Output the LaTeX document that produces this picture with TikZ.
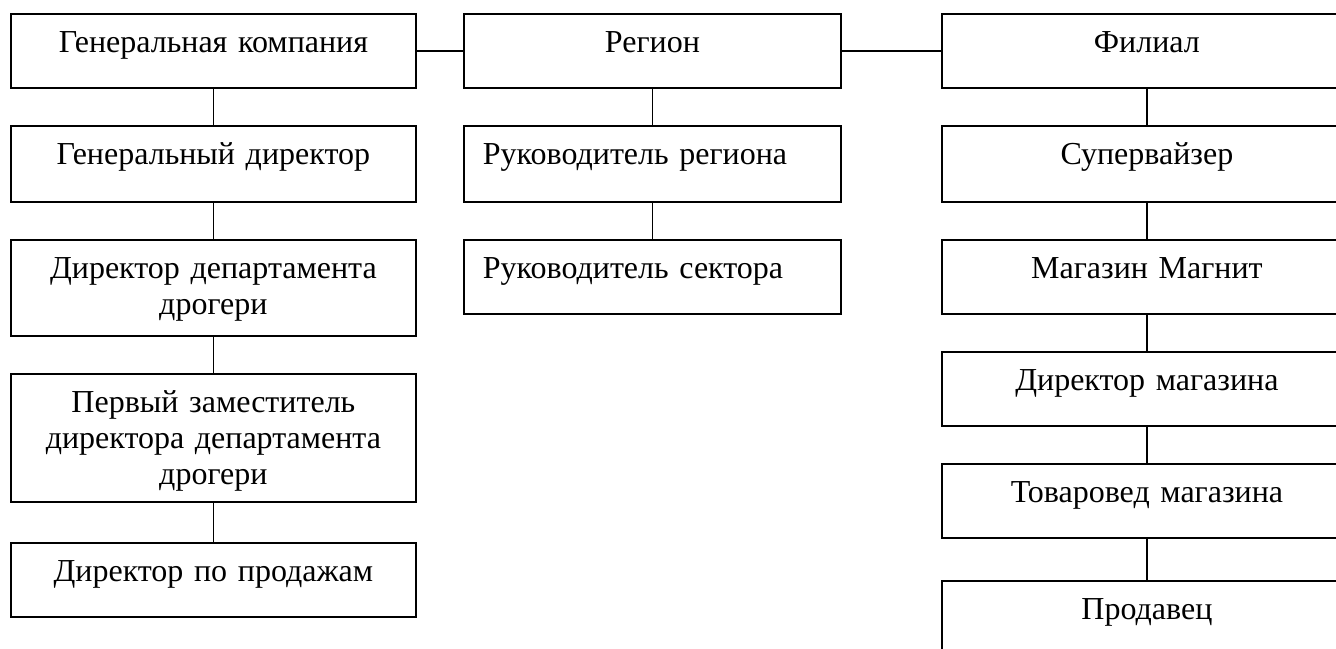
\documentclass[tikz,border=0pt]{standalone}
\usepackage{fontspec}
\setmainfont{Liberation Serif}
\usetikzlibrary{positioning}

\tikzset{
  orgbox/.style={draw, line width=0.9pt, inner sep=0pt, anchor=north west,
                 text height=19.5pt, font=\fontsize{16}{18}\selectfont},
  orgline/.style={line width=0.9pt}
}

\begin{document}
\begin{tikzpicture}[x=0.5pt, y=-0.5pt]
\useasboundingbox (0,0) rectangle (1336,648);

% Helper macro: draw one box of the chart
% #1=extra options, #2=name, #3=x, #4=y, #5=width, #6=height, #7=text
\newcommand{\orgunit}[7][align=center]{%
  \pgfmathsetmacro\boxw{#5*0.5}%
  \pgfmathsetmacro\boxd{#6*0.5-19.5}%
  \node[orgbox, text width=\boxw pt, text depth=\boxd pt, #1] (#2) at (#3,#4) {#7};%
}

% Company column
\orgunit{gk}{10}{13}{405}{74}{Генеральная компания}
\orgunit{gd}{10}{125}{405}{76}{Генеральный директор}
\orgunit{dd}{10}{239}{405}{96}{Директор департамента\\дрогери}
\orgunit{pz}{10}{373}{405}{128}{Первый заместитель\\директора департамента\\дрогери}
\orgunit{dp}{10}{542}{405}{74}{Директор по продажам}

% Region column
\orgunit{reg}{463}{13}{377}{74}{Регион}
\orgunit[align=left, inner xsep=9.5pt, text width=169.5pt]{rr}{463}{125}{377}{76}{Руководитель региона}
\orgunit[align=left, inner xsep=9.5pt, text width=169.5pt]{rs}{463}{239}{377}{74}{Руководитель сектора}

% Branch column (runs past the page edge)
\orgunit{fil}{941}{13}{410}{74}{Филиал}
\orgunit{sup}{941}{125}{410}{76}{Супервайзер}
\orgunit{mag}{941}{239}{410}{74}{Магазин Магнит}
\orgunit{dm}{941}{351}{410}{74}{Директор магазина}
\orgunit{tm}{941}{463}{410}{74}{Товаровед магазина}
\orgunit{prod}{941}{580}{410}{90}{Продавец}

% Connectors
\draw[orgline] (gk) -- (reg);
\draw[orgline] (reg) -- (fil);
\foreach \a/\b in {gk/gd, gd/dd, dd/pz, pz/dp, reg/rr, rr/rs,
                   fil/sup, sup/mag, mag/dm, dm/tm, tm/prod}
  \draw[orgline] (\a) -- (\b);

\end{tikzpicture}
\end{document}
